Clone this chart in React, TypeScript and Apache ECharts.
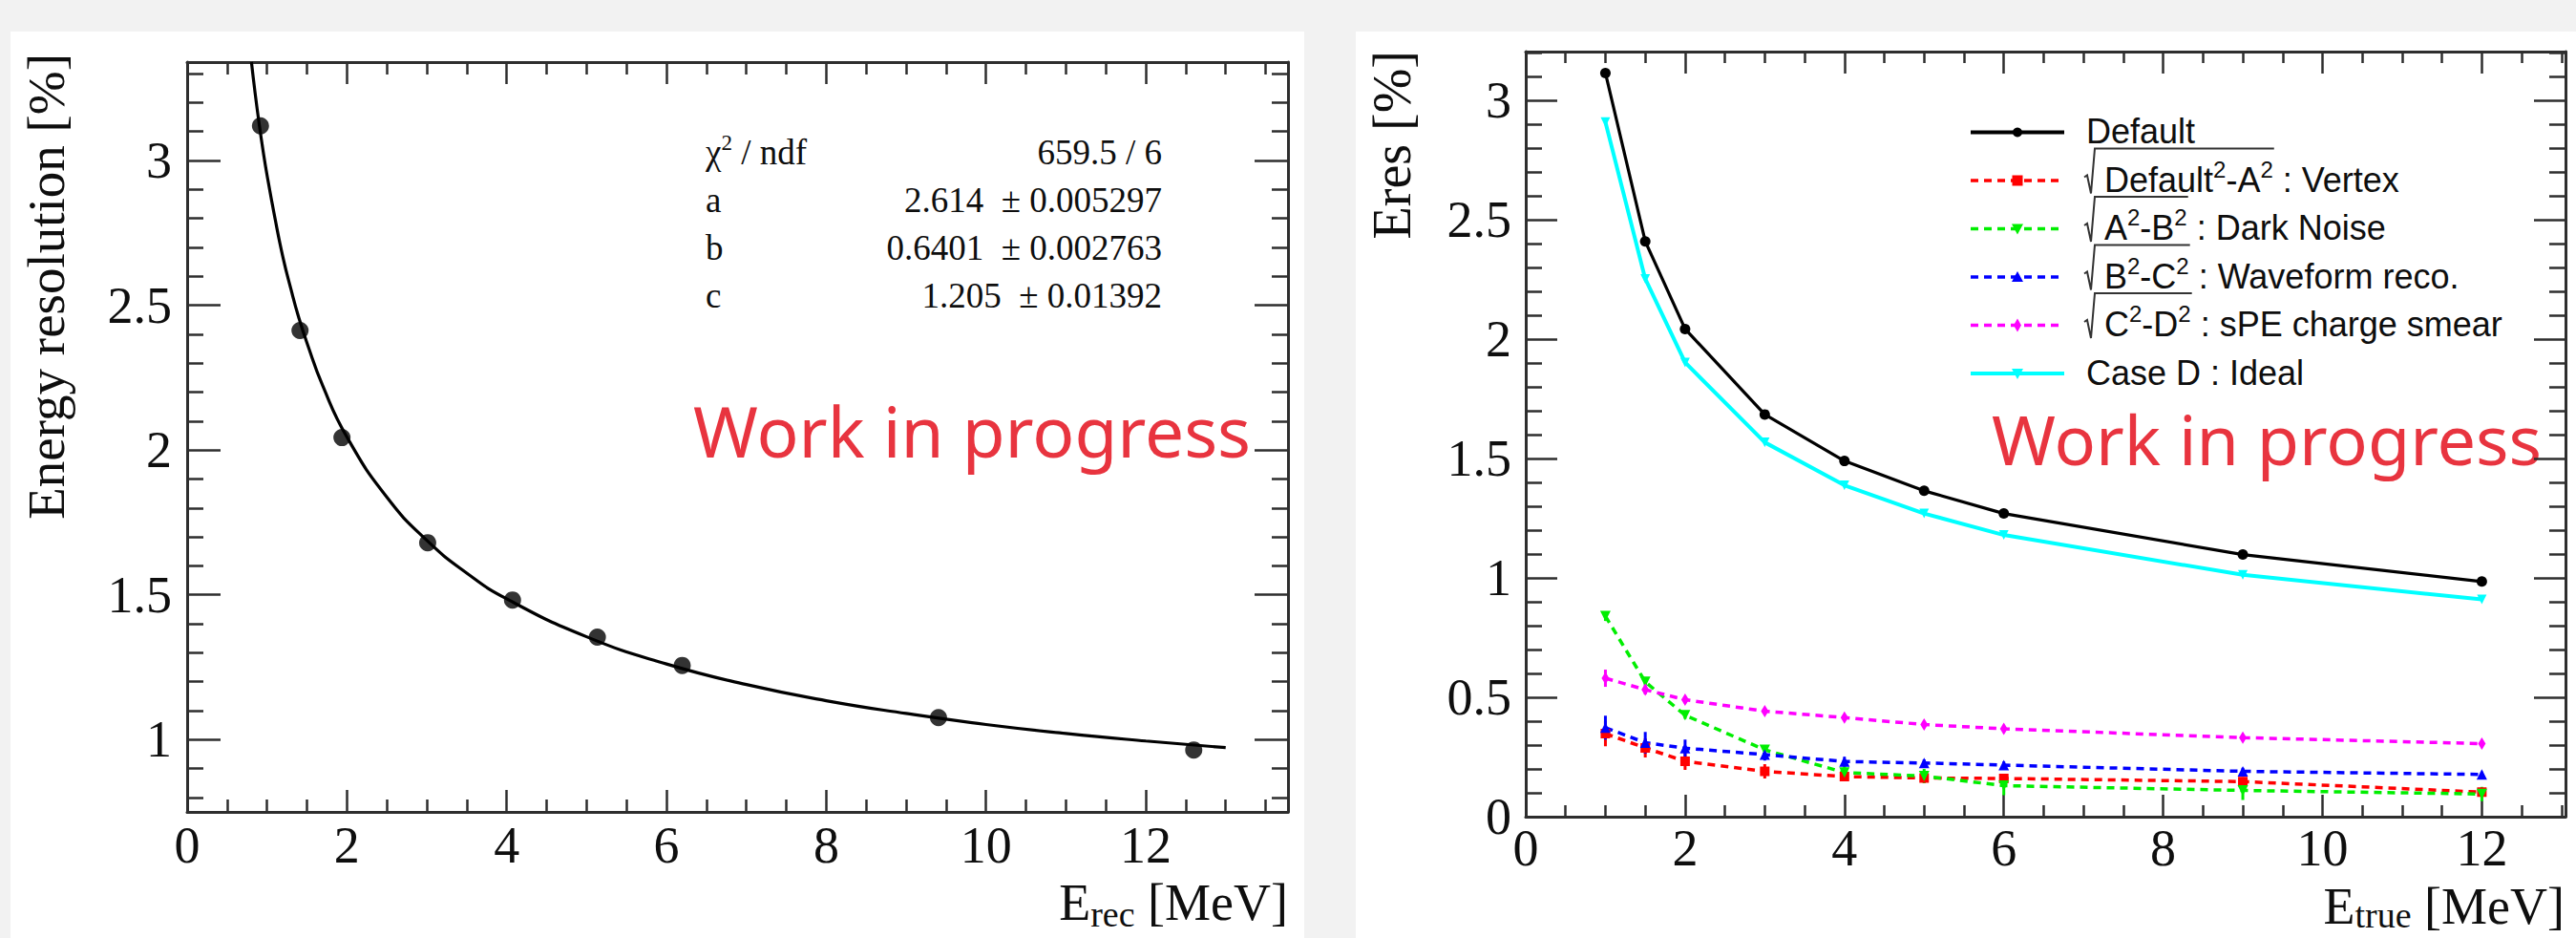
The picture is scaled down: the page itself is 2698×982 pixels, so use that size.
import React, { useEffect, useRef } from "react";
import * as echarts from "echarts";

// ---------------- data ----------------
// left panel: measured points and the fit curve as read from the picture
const leftPointE = [0.918, 1.413, 1.938, 3.011, 4.073, 5.135, 6.197, 9.405, 12.6];
const leftPointRes = [3.12, 2.413, 2.043, 1.68, 1.482, 1.354, 1.256, 1.076, 0.964];
const fitCurveE = [0.805, 0.85, 0.9, 0.95, 1.0, 1.1, 1.2, 1.3, 1.4, 1.5, 1.7, 2.0, 2.5, 3.0, 3.5, 4.0, 5.0, 6.0, 7.0, 8.0, 9.0, 10.0, 11.0, 12.0, 13.0];
const fitCurveRes = [3.34, 3.235, 3.13, 3.035, 2.95, 2.8, 2.665, 2.555, 2.455, 2.37, 2.22, 2.045, 1.837, 1.688, 1.575, 1.486, 1.355, 1.261, 1.19, 1.134, 1.09, 1.052, 1.021, 0.995, 0.972];

// fit statistics box
const chi2Text = "659.5 / 6";
const statNames = ["a", "b", "c"];
const statValues = ["2.614", "0.6401", "1.205"];
const statErrors = ["0.005297", "0.002763", "0.01392"];

// right panel
const energies = [1, 1.5, 2, 3, 4, 5, 6, 9, 12];
const defaultRes = [3.115, 2.41, 2.043, 1.685, 1.49, 1.365, 1.27, 1.098, 0.985];
const vertexRes = [0.348, 0.288, 0.232, 0.19, 0.168, 0.162, 0.16, 0.147, 0.103];
const darkNoiseRes = [0.84, 0.565, 0.425, 0.28, 0.185, 0.17, 0.13, 0.11, 0.095];
const waveformRes = [0.373, 0.31, 0.287, 0.26, 0.231, 0.225, 0.216, 0.19, 0.177];
const speRes = [0.58, 0.532, 0.49, 0.442, 0.415, 0.386, 0.368, 0.331, 0.306];
const idealRes = [2.91, 2.253, 1.903, 1.568, 1.388, 1.27, 1.18, 1.013, 0.91];

const vertexErr = [0.053, 0.04, 0.036, 0.03, 0.02, 0.02, 0.018, 0.018, 0.015];
const darkNoiseErr = [0.02, 0.015, 0.015, 0.02, 0.033, 0.03, 0.04, 0.04, 0.03];
const waveformErr = [0.05, 0.045, 0.036, 0.025, 0.02, 0.015, 0.015, 0.015, 0.012];
const speErr = [0.036, 0.02, 0.015, 0.012, 0.01, 0.01, 0.01, 0.01, 0.01];

// tick labels
const leftXTicks = [0, 2, 4, 6, 8, 10, 12];
const leftYTicks = [1, 1.5, 2, 2.5, 3];
const rightXTicks = [0, 2, 4, 6, 8, 10, 12];
const rightYTicks = [0, 0.5, 1, 1.5, 2, 2.5, 3];

// ---------------- style ----------------
const W = 2698;
const H = 982;
const SERIF = '"Liberation Serif", "Times New Roman", serif';
const SANS = '"Liberation Sans", Arial, sans-serif';
const WIP = '"Noto Sans", "Open Sans", sans-serif';
const AX = "#2e2e2e";
const TXT = "#0e0e0e";
const WIP_COLOR = "#e8343f";

function minorTicks(start: number, end: number, step: number, majorStep: number): number[] {
  const out: number[] = [];
  const n = Math.round((end - start) / step);
  for (let i = 0; i <= n; i++) {
    const v = Math.round((start + i * step) * 1000) / 1000;
    const r = v / majorStep;
    if (Math.abs(r - Math.round(r)) > 1e-6) out.push(v);
  }
  return out;
}

let measureCtx: CanvasRenderingContext2D | null = null;
function tw(text: string, size: number, family: string): number {
  if (!measureCtx) measureCtx = document.createElement("canvas").getContext("2d");
  if (!measureCtx) return text.length * size * 0.5;
  measureCtx.font = `${size}px ${family}`;
  return measureCtx.measureText(text).width;
}

function txt(x: number, baseline: number, text: string, size: number, family: string, fill: string, align = "left", central = 0.34, lh?: number): any {
  return {
    type: "text",
    x,
    y: baseline - central * size,
    silent: true,
    style: { text, font: `${size}px ${family}`, fill, align, verticalAlign: "middle", lineHeight: lh ?? Math.round(size * 0.8) },
  };
}

type Seg = { t: string; sup?: boolean; sub?: boolean };

function segs(x0: number, baseline: number, list: Seg[], size: number, family: string, fill: string, small = 0.66, supRaise = 0.42, subDrop = 0.15) {
  const els: any[] = [];
  let x = x0;
  for (const s of list) {
    const sz = s.sup || s.sub ? Math.round(size * small) : size;
    const dy = s.sup ? -size * supRaise : s.sub ? size * subDrop : 0;
    els.push(txt(x, baseline + dy, s.t, sz, family, fill));
    x += tw(s.t, sz, family);
  }
  return { els, width: x - x0 };
}

function segsWidth(list: Seg[], size: number, family: string, small = 0.66) {
  let w = 0;
  for (const s of list) w += tw(s.t, s.sup || s.sub ? Math.round(size * small) : size, family);
  return w;
}

function axisSet(kind: "x" | "y", grid: number, min: number, max: number, major: number[], minor: number[], majorLen: number, minorLen: number, margin: number) {
  const common: any = { type: "value", gridIndex: grid, min, max, splitLine: { show: false }, silent: true };
  const lineOn = { show: true, onZero: false, lineStyle: { color: AX, width: 3 } };
  const lineOff = { show: false, onZero: false };
  const tickStyle = { color: AX, width: 2.5 };
  const labelOn: any = { show: true, customValues: major, margin, fontSize: 54, fontFamily: SERIF, color: TXT };
  if (kind === "x") labelOn.lineHeight = 40;
  const pos1 = kind === "x" ? "bottom" : "left";
  const pos2 = kind === "x" ? "top" : "right";
  return [
    { ...common, position: pos1, axisLine: lineOn, axisTick: { show: true, inside: true, length: majorLen, customValues: major, lineStyle: tickStyle }, axisLabel: labelOn },
    { ...common, position: pos1, axisLine: lineOff, axisTick: { show: true, inside: true, length: minorLen, customValues: minor, lineStyle: tickStyle }, axisLabel: { show: false } },
    { ...common, position: pos2, axisLine: lineOn, axisTick: { show: true, inside: true, length: majorLen, customValues: major, lineStyle: tickStyle }, axisLabel: { show: false } },
    { ...common, position: pos2, axisLine: lineOff, axisTick: { show: true, inside: true, length: minorLen, customValues: minor, lineStyle: tickStyle }, axisLabel: { show: false } },
  ];
}

function errSeries(ys: number[], es: number[], color: string): any {
  return {
    type: "custom",
    xAxisIndex: 4,
    yAxisIndex: 4,
    silent: true,
    data: energies.map((x, i) => [x, ys[i], es[i]]),
    encode: { x: 0, y: 1 },
    renderItem: (_params: any, api: any) => {
      const x = api.value(0);
      const y = api.value(1);
      const e = api.value(2);
      const p1 = api.coord([x, y + e]);
      const p2 = api.coord([x, y - e]);
      return { type: "line", shape: { x1: p1[0], y1: p1[1], x2: p2[0], y2: p2[1] }, style: { stroke: color, lineWidth: 3 } };
    },
  };
}

function lineSeries(name: string, ys: number[], color: string, dashed: boolean, symbol: string, size: any, rotate = 0, width = 3): any {
  return {
    name,
    type: "line",
    xAxisIndex: 4,
    yAxisIndex: 4,
    data: energies.map((x, i) => [x, ys[i]]),
    symbol,
    symbolSize: size,
    symbolRotate: rotate,
    showSymbol: true,
    lineStyle: { color, width: dashed ? 3.5 : width, type: dashed ? [8, 6] : "solid" },
    itemStyle: { color },
    silent: true,
  };
}

function legendMarker(kind: string, cx: number, cy: number, color: string): any {
  if (kind === "circle") return { type: "circle", shape: { cx, cy, r: 5 }, style: { fill: color }, silent: true };
  if (kind === "square") return { type: "rect", shape: { x: cx - 5.5, y: cy - 5.5, width: 11, height: 11 }, style: { fill: color }, silent: true };
  if (kind === "down") return { type: "polygon", shape: { points: [[cx - 6, cy - 5], [cx + 6, cy - 5], [cx, cy + 6]] }, style: { fill: color }, silent: true };
  if (kind === "up") return { type: "polygon", shape: { points: [[cx - 6, cy + 5], [cx + 6, cy + 5], [cx, cy - 6]] }, style: { fill: color }, silent: true };
  return { type: "polygon", shape: { points: [[cx, cy - 7], [cx + 4, cy], [cx, cy + 7], [cx - 4, cy]] }, style: { fill: color }, silent: true };
}

function buildOption(): any {
  const graphic: any[] = [];

  // ---- left panel texts ----
  graphic.push({
    type: "text", x: 48, y: 56, rotation: Math.PI / 2, silent: true,
    style: { text: "Energy resolution [%]", font: `55px ${SERIF}`, fill: TXT, align: "right", verticalAlign: "middle", lineHeight: 44 },
  });
  {
    const list: Seg[] = [{ t: "E" }, { t: "rec", sub: true }, { t: " [MeV]" }];
    const w = segsWidth(list, 54, SERIF, 0.7);
    graphic.push(...segs(1349 - w, 963, list, 54, SERIF, TXT, 0.7, 0.42, 0.12).els);
  }
  // stats box
  graphic.push(...segs(739, 172, [{ t: "χ" }, { t: "2", sup: true }, { t: " / ndf" }], 37, SERIF, TXT, 0.62, 0.4).els);
  graphic.push(txt(1217, 172, chi2Text, 37, SERIF, TXT, "right"));
  statNames.forEach((n, i) => {
    const b = 222 + i * 50;
    graphic.push(txt(739, b, n, 37, SERIF, TXT));
    graphic.push(txt(1217, b, `${statValues[i]}\u00a0\u00a0± ${statErrors[i]}`, 37, SERIF, TXT, "right"));
  });
  graphic.push(txt(726, 479, "Work in progress", 73, WIP, WIP_COLOR, "left", 0.388));

  // ---- right panel texts ----
  graphic.push({
    type: "text", x: 1458, y: 53, rotation: Math.PI / 2, silent: true,
    style: { text: "Eres [%]", font: `56px ${SERIF}`, fill: TXT, align: "right", verticalAlign: "middle", lineHeight: 44 },
  });
  {
    const list: Seg[] = [{ t: "E" }, { t: "true", sub: true }, { t: " [MeV]" }];
    const w = segsWidth(list, 54, SERIF, 0.7);
    graphic.push(...segs(2686 - w, 967, list, 54, SERIF, TXT, 0.7, 0.42, 0.08).els);
  }
  graphic.push(txt(2086, 487, "Work in progress", 72, WIP, WIP_COLOR, "left", 0.388));

  // ---- legend ----
  const legendRows: { color: string; dashed: boolean; marker: string; rad: Seg[] | null; tail: string }[] = [
    { color: "#000000", dashed: false, marker: "circle", rad: null, tail: "Default" },
    { color: "#ff0000", dashed: true, marker: "square", rad: [{ t: "Default" }, { t: "2", sup: true }, { t: "-A" }, { t: "2", sup: true }], tail: " : Vertex" },
    { color: "#00ee00", dashed: true, marker: "down", rad: [{ t: "A" }, { t: "2", sup: true }, { t: "-B" }, { t: "2", sup: true }], tail: " : Dark Noise" },
    { color: "#0000ff", dashed: true, marker: "up", rad: [{ t: "B" }, { t: "2", sup: true }, { t: "-C" }, { t: "2", sup: true }], tail: " : Waveform reco." },
    { color: "#ff00ff", dashed: true, marker: "diamond", rad: [{ t: "C" }, { t: "2", sup: true }, { t: "-D" }, { t: "2", sup: true }], tail: " : sPE charge smear" },
    { color: "#00ffff", dashed: false, marker: "down", rad: null, tail: "Case D : Ideal" },
  ];
  legendRows.forEach((row, i) => {
    const base = 150 + i * 50.5;
    const cy = base - 11.5;
    graphic.push({
      type: "line", silent: true,
      shape: { x1: 2064, y1: cy, x2: 2162, y2: cy },
      style: { stroke: row.color, lineWidth: row.dashed ? 3.5 : 4, lineDash: row.dashed ? [8, 6] : null },
    });
    graphic.push(legendMarker(row.marker, 2113, cy, row.color));
    if (row.rad) {
      const r = segs(2204, base, row.rad, 36, SANS, TXT, 0.66, 0.42);
      graphic.push(...r.els);
      const endX = 2204 + r.width + 1;
      graphic.push({
        type: "polyline", silent: true,
        shape: { points: [[2183, base - 15], [2186, base - 17], [2190, base + 2], [2194, base - 45], [endX, base - 45]] },
        style: { stroke: "#333", lineWidth: 2, fill: null },
      });
      graphic.push(txt(2204 + r.width, base, row.tail, 36, SANS, TXT));
    } else {
      graphic.push(txt(2185, base, row.tail, 36, SANS, TXT));
    }
  });

  const xAxis = [
    ...axisSet("x", 0, 0, 13.78, leftXTicks, minorTicks(0, 13.5, 0.5, 2), 23, 13, 15),
    ...axisSet("x", 1, 0, 13.05, rightXTicks, minorTicks(0, 13, 0.5, 2), 23, 12, 13),
  ];
  const yAxis = [
    ...axisSet("y", 0, 0.75, 3.34, leftYTicks, minorTicks(0.8, 3.3, 0.1, 0.5), 35, 17, 16),
    ...axisSet("y", 1, 0, 3.205, rightYTicks, minorTicks(0, 3.2, 0.1, 0.5), 33, 17, 15),
  ];

  const series: any[] = [
    {
      name: "fit", type: "line", xAxisIndex: 0, yAxisIndex: 0, silent: true,
      data: fitCurveE.map((x, i) => [x, fitCurveRes[i]]),
      smooth: true, symbol: "none", lineStyle: { color: "#000", width: 3.2 },
    },
    {
      name: "points", type: "scatter", xAxisIndex: 0, yAxisIndex: 0, silent: true,
      data: leftPointE.map((x, i) => [x, leftPointRes[i]]),
      symbol: "circle", symbolSize: 18, itemStyle: { color: "#000" },
    },
    errSeries(vertexRes, vertexErr, "#ff0000"),
    errSeries(darkNoiseRes, darkNoiseErr, "#00ee00"),
    errSeries(waveformRes, waveformErr, "#0000ff"),
    errSeries(speRes, speErr, "#ff00ff"),
    lineSeries("Default", defaultRes, "#000000", false, "circle", 11, 0, 3.2),
    lineSeries("Vertex", vertexRes, "#ff0000", true, "rect", 10),
    lineSeries("Dark Noise", darkNoiseRes, "#00ee00", true, "triangle", 11, 180),
    lineSeries("Waveform reco.", waveformRes, "#0000ff", true, "triangle", 11),
    lineSeries("sPE charge smear", speRes, "#ff00ff", true, "diamond", [8, 13]),
    lineSeries("Case D : Ideal", idealRes, "#00ffff", false, "triangle", 10, 180, 4),
  ];

  return {
    animation: false,
    backgroundColor: "transparent",
    grid: [
      { left: 196, top: 65, width: 1153, height: 785, containLabel: false, outerBoundsMode: "none", show: false },
      { left: 1598, top: 54, width: 1089, height: 801, containLabel: false, outerBoundsMode: "none", show: false },
    ],
    xAxis,
    yAxis,
    series,
    graphic: { elements: graphic },
  };
}

export default function App() {
  const ref = useRef<HTMLDivElement>(null);
  useEffect(() => {
    if (!ref.current) return;
    const chart = echarts.init(ref.current, null, { renderer: "svg", width: W, height: H });
    chart.setOption(buildOption());
    return () => {
      chart.dispose();
    };
  }, []);
  return (
    <div style={{ position: "fixed", left: 0, top: 0, width: W, height: H, background: "#f2f2f2", overflow: "hidden" }}>
      <div style={{ position: "absolute", left: 11, top: 33, width: 1355, height: H - 33, background: "#ffffff" }} />
      <div style={{ position: "absolute", left: 1420, top: 33, width: W - 1420, height: H - 33, background: "#ffffff" }} />
      <div ref={ref} style={{ position: "absolute", left: 0, top: 0, width: W, height: H }} />
    </div>
  );
}
